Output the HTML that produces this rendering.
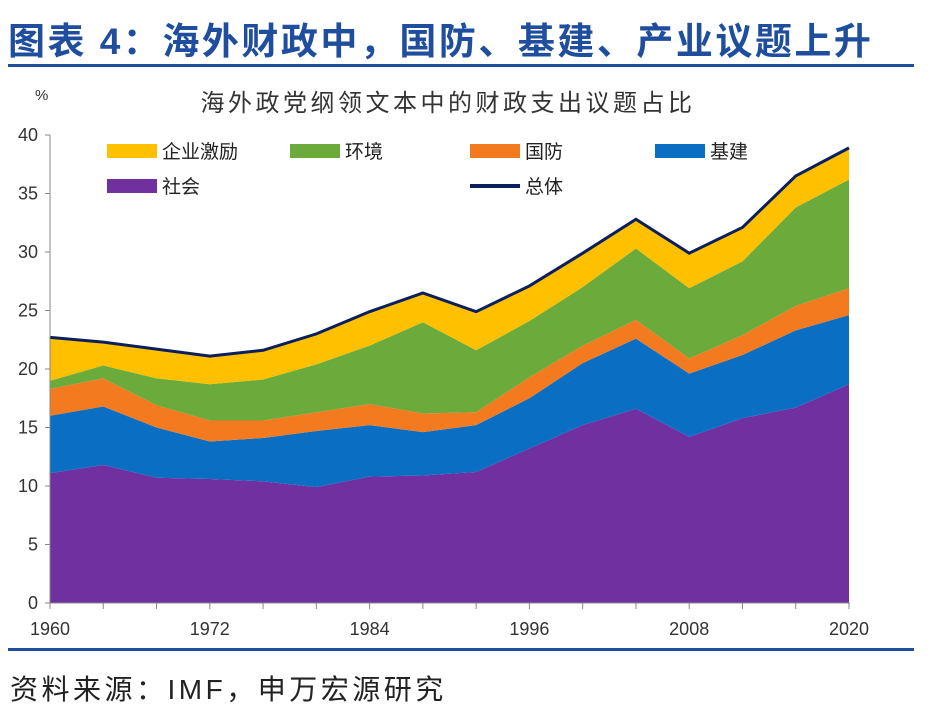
<!DOCTYPE html>
<html><head><meta charset="utf-8"><style>
body{margin:0;background:#fff;width:944px;height:712px;overflow:hidden;font-family:"Liberation Sans","Noto Sans CJK SC",sans-serif;}
</style></head><body>
<svg width="944" height="712" xmlns="http://www.w3.org/2000/svg" font-family="Liberation Sans, Noto Sans CJK SC, sans-serif">
<text x="8" y="54" font-size="37" font-weight="bold" letter-spacing="2.5" fill="#1f4e9e">图表 4：海外财政中，国防、基建、产业议题上升</text>
<rect x="8" y="64" width="906" height="3" fill="#1f4e9e"/>
<text x="448" y="111" font-size="24" letter-spacing="3.5" fill="#333" text-anchor="middle">海外政党纲领文本中的财政支出议题占比</text>
<text x="35" y="100" font-size="15" fill="#333">%</text>
<g id="plot"></g>
<g id="legend"></g>
<rect x="8" y="648" width="906" height="3" fill="#1f4e9e"/>
<text x="10" y="699" font-size="28" letter-spacing="3.5" fill="#222">资料来源：IMF，申万宏源研究</text>
</svg>
<script>
const years=[1960,1964,1968,1972,1976,1980,1984,1988,1992,1996,2000,2004,2008,2012,2016,2020];
const society=[11.1,11.8,10.7,10.6,10.4,9.9,10.8,10.9,11.2,13.2,15.2,16.6,14.2,15.8,16.7,18.7];
const infra=[4.9,5.0,4.3,3.2,3.7,4.8,4.4,3.7,4.0,4.3,5.3,6.0,5.4,5.4,6.6,5.9];
const defense=[2.3,2.4,1.9,1.8,1.5,1.6,1.8,1.6,1.1,1.8,1.5,1.6,1.3,1.7,2.1,2.3];
const environment=[0.7,1.1,2.3,3.1,3.5,4.1,5.0,7.8,5.3,4.8,5.0,6.1,6.0,6.3,8.4,9.3];
const business=[3.7,2.0,2.5,2.4,2.5,2.6,2.9,2.5,3.3,3.0,2.9,2.5,3.0,2.9,2.7,2.7];
const yTicks=[0,5,10,15,20,25,30,35,40];
const xLabels=[1960,1972,1984,1996,2008,2020];
const NS="http://www.w3.org/2000/svg";
const X=y=>50+(y-1960)/60*799;
const Y=v=>603-v/40*468;
const plot=document.getElementById('plot');
function mk(t,a,p){const e=document.createElementNS(NS,t);for(const k in a)e.setAttribute(k,a[k]);(p||plot).appendChild(e);return e;}
const series=[["society",society,"#7030a0"],["infrastructure",infra,"#0a6fc2"],["defense",defense,"#f47a20"],["environment",environment,"#6bab3c"],["business",business,"#ffc000"]];
let base=years.map(()=>0);
series.forEach(([n,vals,c])=>{
  const top=base.map((b,i)=>b+vals[i]);
  let d=years.map((y,i)=>(i?'L':'M')+X(y)+','+Y(top[i])).join('');
  for(let i=years.length-1;i>=0;i--)d+='L'+X(years[i])+','+Y(base[i]);
  const p=mk('path',{d:d+'Z',fill:c});
  
  
  base=top;
});
const tl=mk('polyline',{points:years.map((y,i)=>X(y)+','+Y(base[i])).join(' '),fill:'none',stroke:'#0b1f5c','stroke-width':3});


mk('line',{x1:50,y1:135,x2:50,y2:603,stroke:'#888'});
mk('line',{x1:50,y1:603,x2:850,y2:603,stroke:'#888'});
yTicks.forEach(v=>{
  mk('line',{x1:45,y1:Y(v),x2:50,y2:Y(v),stroke:'#888'});
  const t=mk('text',{x:38,y:Y(v)+6,'font-size':18,fill:'#333','text-anchor':'end'});t.textContent=v;
  
  
});
years.forEach(y=>mk('line',{x1:X(y),y1:603,x2:X(y),y2:609,stroke:'#888'}));
xLabels.forEach(y=>{
  const t=mk('text',{x:X(y),y:635,'font-size':18,fill:'#333','text-anchor':'middle'});t.textContent=y;
  
  
});
const lg=document.getElementById('legend');
const items=[["企业激励","#ffc000",107,151,0],["环境","#6bab3c",290,151,0],["国防","#f47a20",470,151,0],["基建","#0a6fc2",655,151,0],["社会","#7030a0",107,186,0],["总体","#0b1f5c",470,186,1]];
items.forEach(([name,c,x,y,line])=>{
  const g=mk('g',{},lg);
  
  
  if(line)mk('rect',{x:x,y:y-2,width:50,height:4,fill:c},g);
  else mk('rect',{x:x,y:y-7,width:50,height:14,fill:c},g);
  const t=mk('text',{x:x+55,y:y+7,'font-size':19,fill:'#222'},g);t.textContent=name;
});
</script>
</body></html>
